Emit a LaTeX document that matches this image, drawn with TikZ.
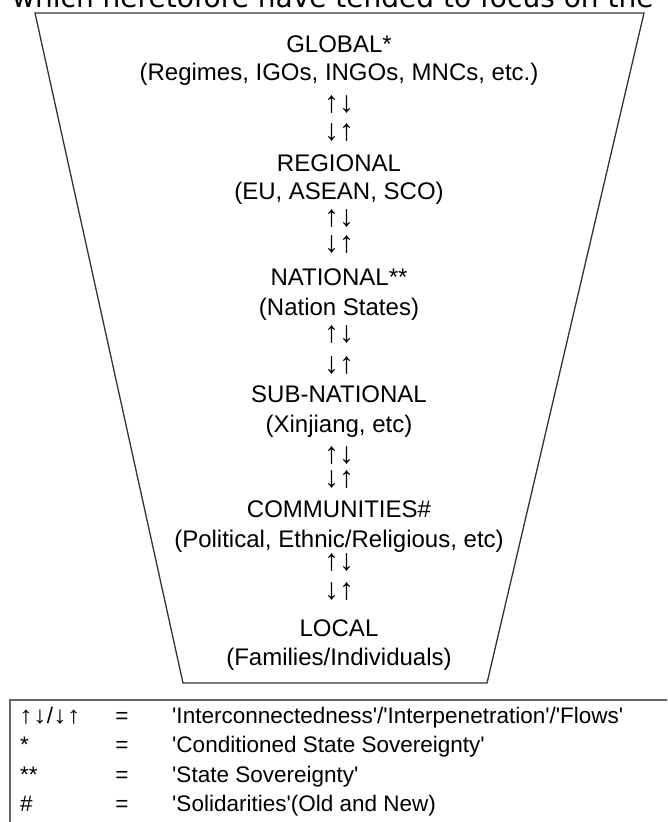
\documentclass[tikz,border=0pt]{standalone}
\usepackage{fontspec}
\usepackage{graphicx}
\setmainfont{Liberation Sans}
\newfontfamily\topfont{DejaVu Sans}
\newcommand{\q}{\textquotesingle}
\newcommand{\arrpair}[1]{{\fontsize{30}{30}\selectfont #1}}
\newcommand{\legarr}[1]{\scalebox{1.15}[1]{\fontsize{24}{24}\selectfont #1}}
\begin{document}
\begin{tikzpicture}[x=1pt,y=-1pt,
  lvl/.style={inner sep=0pt, anchor=base, text=black, font=\fontsize{24}{24}\selectfont},
  arr/.style={inner sep=0pt, anchor=center, text=black},
  leg/.style={inner sep=0pt, anchor=base west, text=black, font=\fontsize{22.5}{22.5}\selectfont},
  funnel/.style={draw=black!80, line width=1.3pt, line join=miter},
  legbox/.style={draw=black!60, line width=1.8pt}]
\path[use as bounding box, clip] (0,0) rectangle (667,822);
% cut-off running text above the figure
\node[anchor=base west, inner sep=0pt, font=\topfont\fontsize{28}{28}\selectfont] (toptext) at (12,7) {which heretofore have tended to focus on the};
% funnel
\coordinate (tl) at (35,13);
\coordinate (tr) at (644,13);
\coordinate (br) at (487,683);
\coordinate (bl) at (183,683);
\draw[funnel] (tl) -- (tr) -- (br) -- (bl) -- cycle;
% levels
\node[lvl] (g1) at (339,52.7) {GLOBAL*};
\node[lvl] (g2) at (339,80) {(Regimes, IGOs, INGOs, MNCs, etc.)};
\node[arr] (a1) at (339,105) {\arrpair{↑↓}};
\node[arr] (b1) at (339,133) {\arrpair{↓↑}};
\node[lvl] (r1) at (339,171) {REGIONAL};
\node[lvl] (r2) at (339,199) {(EU, ASEAN, SCO)};
\node[arr] (a2) at (339,219) {\arrpair{↑↓}};
\node[arr] (b2) at (339,245) {\arrpair{↓↑}};
\node[lvl] (n1) at (339,285) {NATIONAL**};
\node[lvl] (n2) at (339,315) {(Nation States)};
\node[arr] (a3) at (339,335) {\arrpair{↑↓}};
\node[arr] (b3) at (339,366) {\arrpair{↓↑}};
\node[lvl] (s1) at (339,402) {SUB-NATIONAL};
\node[lvl] (s2) at (339,432) {(Xinjiang, etc)};
\node[arr] (a4) at (339,456) {\arrpair{↑↓}};
\node[arr] (b4) at (339,480) {\arrpair{↓↑}};
\node[lvl] (c1) at (339,517) {COMMUNITIES\#};
\node[lvl] (c2) at (339,547) {(Political, Ethnic/Religious, etc)};
\node[arr] (a5) at (339,563) {\arrpair{↑↓}};
\node[arr] (b5) at (339,592) {\arrpair{↓↑}};
\node[lvl] (l1) at (339,636) {LOCAL};
\node[lvl] (l2) at (339,665) {(Families/Individuals)};
% legend
\coordinate (lbtl) at (10,700);
\coordinate (lbbr) at (690,850);
\draw[legbox] (lbtl) rectangle (lbbr);
\node[leg, anchor=west] (k1) at (19,716) {\legarr{↑↓}/\legarr{↓↑}};
\node[leg] (k2) at (20,752) {*};
\node[leg] (k3) at (20,782) {**};
\node[leg] (k4) at (20,811) {\#};
\node[leg, anchor=base] (e1) at (122,723) {=};
\node[leg, anchor=base] (e2) at (122,752) {=};
\node[leg, anchor=base] (e3) at (122,782) {=};
\node[leg, anchor=base] (e4) at (122,811) {=};
\node[leg] (d1) at (172,723) {\q Interconnectedness\q/\q Interpenetration\q/\q Flows\q};
\node[leg] (d2) at (172,752) {\q Conditioned State Sovereignty\q};
\node[leg] (d3) at (172,782) {\q State Sovereignty\q};
\node[leg] (d4) at (172,811) {\q Solidarities\q(Old and New)};
\end{tikzpicture}
\end{document}
